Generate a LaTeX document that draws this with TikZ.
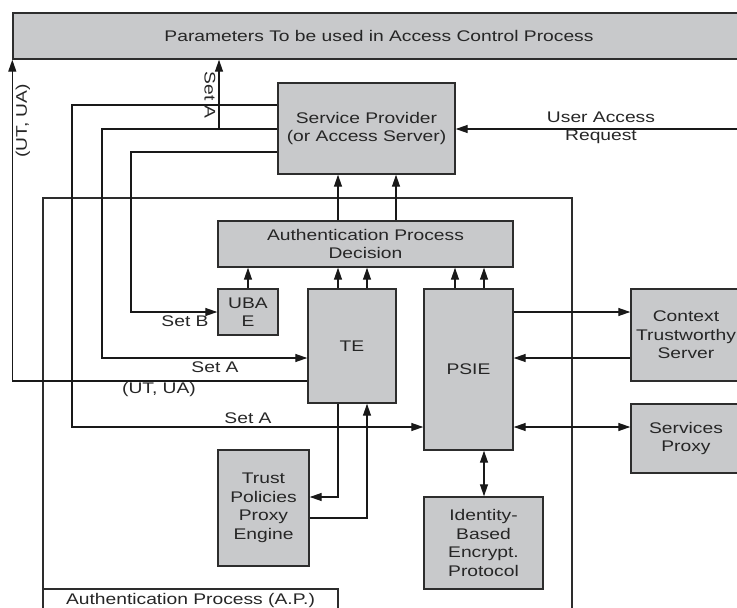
\documentclass[tikz,border=0pt]{standalone}
\usepackage{fontspec}
\setmainfont[FakeStretch=1.25]{Liberation Sans}
\usetikzlibrary{arrows.meta}
\definecolor{boxgray}{RGB}{200,201,203}
\definecolor{edgecol}{RGB}{45,45,45}
\begin{document}
\begin{tikzpicture}[x=1pt,y=-1pt,
  every node/.style={font=\fontsize{15.4}{18.5}\selectfont, text=black!85, align=center, inner sep=0pt},
  box/.style={draw=edgecol, line width=1.4pt, fill=boxgray},
  frame/.style={draw=edgecol, line width=1.3pt},
  wire/.style={draw=black!90, line width=1.25pt},
  arr/.style={wire, -{Triangle[length=12pt,width=8pt]}},
  darr/.style={wire, {Triangle[length=12pt,width=8pt]}-{Triangle[length=12pt,width=8pt]}},
  lbl/.style={fill=none}
]
\useasboundingbox (0,0) rectangle (737,608);
\clip (0,0) rectangle (737,608);

% outer authentication process frame
\node[frame, minimum width=529pt, minimum height=430pt] (ap) at (307.5,413) {};
\node[frame, fill=white, minimum width=295pt, minimum height=24pt] (aplbl) at (190.5,601) {Authentication Process (A.P.)};

% boxes
\node[box, minimum width=732pt, minimum height=46pt] (params) at (379,36) {Parameters To be used in Access Control Process};
\node[box, minimum width=177pt, minimum height=91pt] (sp) at (366.5,128.5) {Service Provider\\(or Access Server)};
\node[box, minimum width=295pt, minimum height=46pt] (apd) at (365.5,244) {Authentication Process\\Decision};
\node[box, minimum width=60pt, minimum height=46pt] (ubae) at (248,312) {UBA\\E};
\node[box, minimum width=88pt, minimum height=114pt] (te) at (352,346) {TE};
\node[box, minimum width=89pt, minimum height=161pt] (psie) at (468.5,369.5) {PSIE};
\node[box, minimum width=110pt, minimum height=92pt] (cts) at (686,335) {Context\\Trustworthy\\Server};
\node[box, minimum width=110pt, minimum height=69pt] (spx) at (686,438.5) {Services\\Proxy};
\node[box, minimum width=119pt, minimum height=92pt] (ibe) at (483.5,543) {Identity-\\Based\\Encrypt.\\Protocol};
\node[box, minimum width=91pt, minimum height=116pt] (tppe) at (263.5,508) {Trust\\Policies\\Proxy\\Engine};

% connectors
\coordinate (uain) at (745,129);
\coordinate (jA) at (219,129);
\draw[arr] (uain) -- (sp.east |- uain);
\draw[arr] (te.west |- 0,381) -| (params.south west);
\draw[arr] (jA) -- (params.south -| jA);
\draw[arr] (sp.west |- 0,105) -| (72,427) -- (psie.west |- 0,427);
\draw[arr] (sp.west |- 0,129) -| (102,358) -- (te.west |- 0,358);
\draw[arr] (sp.west |- 0,152) -| (131,312) -- (ubae.west |- 0,312);

\draw[arr] (apd.north -| 338,0) -- (sp.south -| 338,0);
\draw[arr] (apd.north -| 396,0) -- (sp.south -| 396,0);
\draw[arr] (ubae.north) -- (apd.south -| ubae.north);
\draw[arr] (te.north -| 338,0) -- (apd.south -| 338,0);
\draw[arr] (te.north -| 367,0) -- (apd.south -| 367,0);
\draw[arr] (psie.north -| 455,0) -- (apd.south -| 455,0);
\draw[arr] (psie.north -| 484,0) -- (apd.south -| 484,0);

\draw[arr] (psie.east |- 0,312) -- (cts.west |- 0,312);
\draw[arr] (cts.west |- 0,358) -- (psie.east |- 0,358);
\draw[darr] (psie.east |- 0,427) -- (spx.west |- 0,427);
\draw[darr] (psie.south -| 484,0) -- (ibe.north -| 484,0);

\draw[arr] (te.south -| 338,0) |- (tppe.east |- 0,497);
\draw[arr] (tppe.east |- 0,518) -| (te.south -| 367,0);

% labels
\node[lbl] (luar) at (601,128) {User Access\\Request};
\node[lbl, rotate=90] (lutua1) at (23,121) {(UT, UA)};
\node[lbl, rotate=-90] (lseta1) at (210,95) {Set A};
\node[lbl] (lsetb) at (185,321) {Set B};
\node[lbl] (lseta2) at (215,367) {Set A};
\node[lbl] (lutua2) at (159,390) {(UT, UA)};
\node[lbl] (lseta3) at (248,418) {Set A};
\end{tikzpicture}
\end{document}
